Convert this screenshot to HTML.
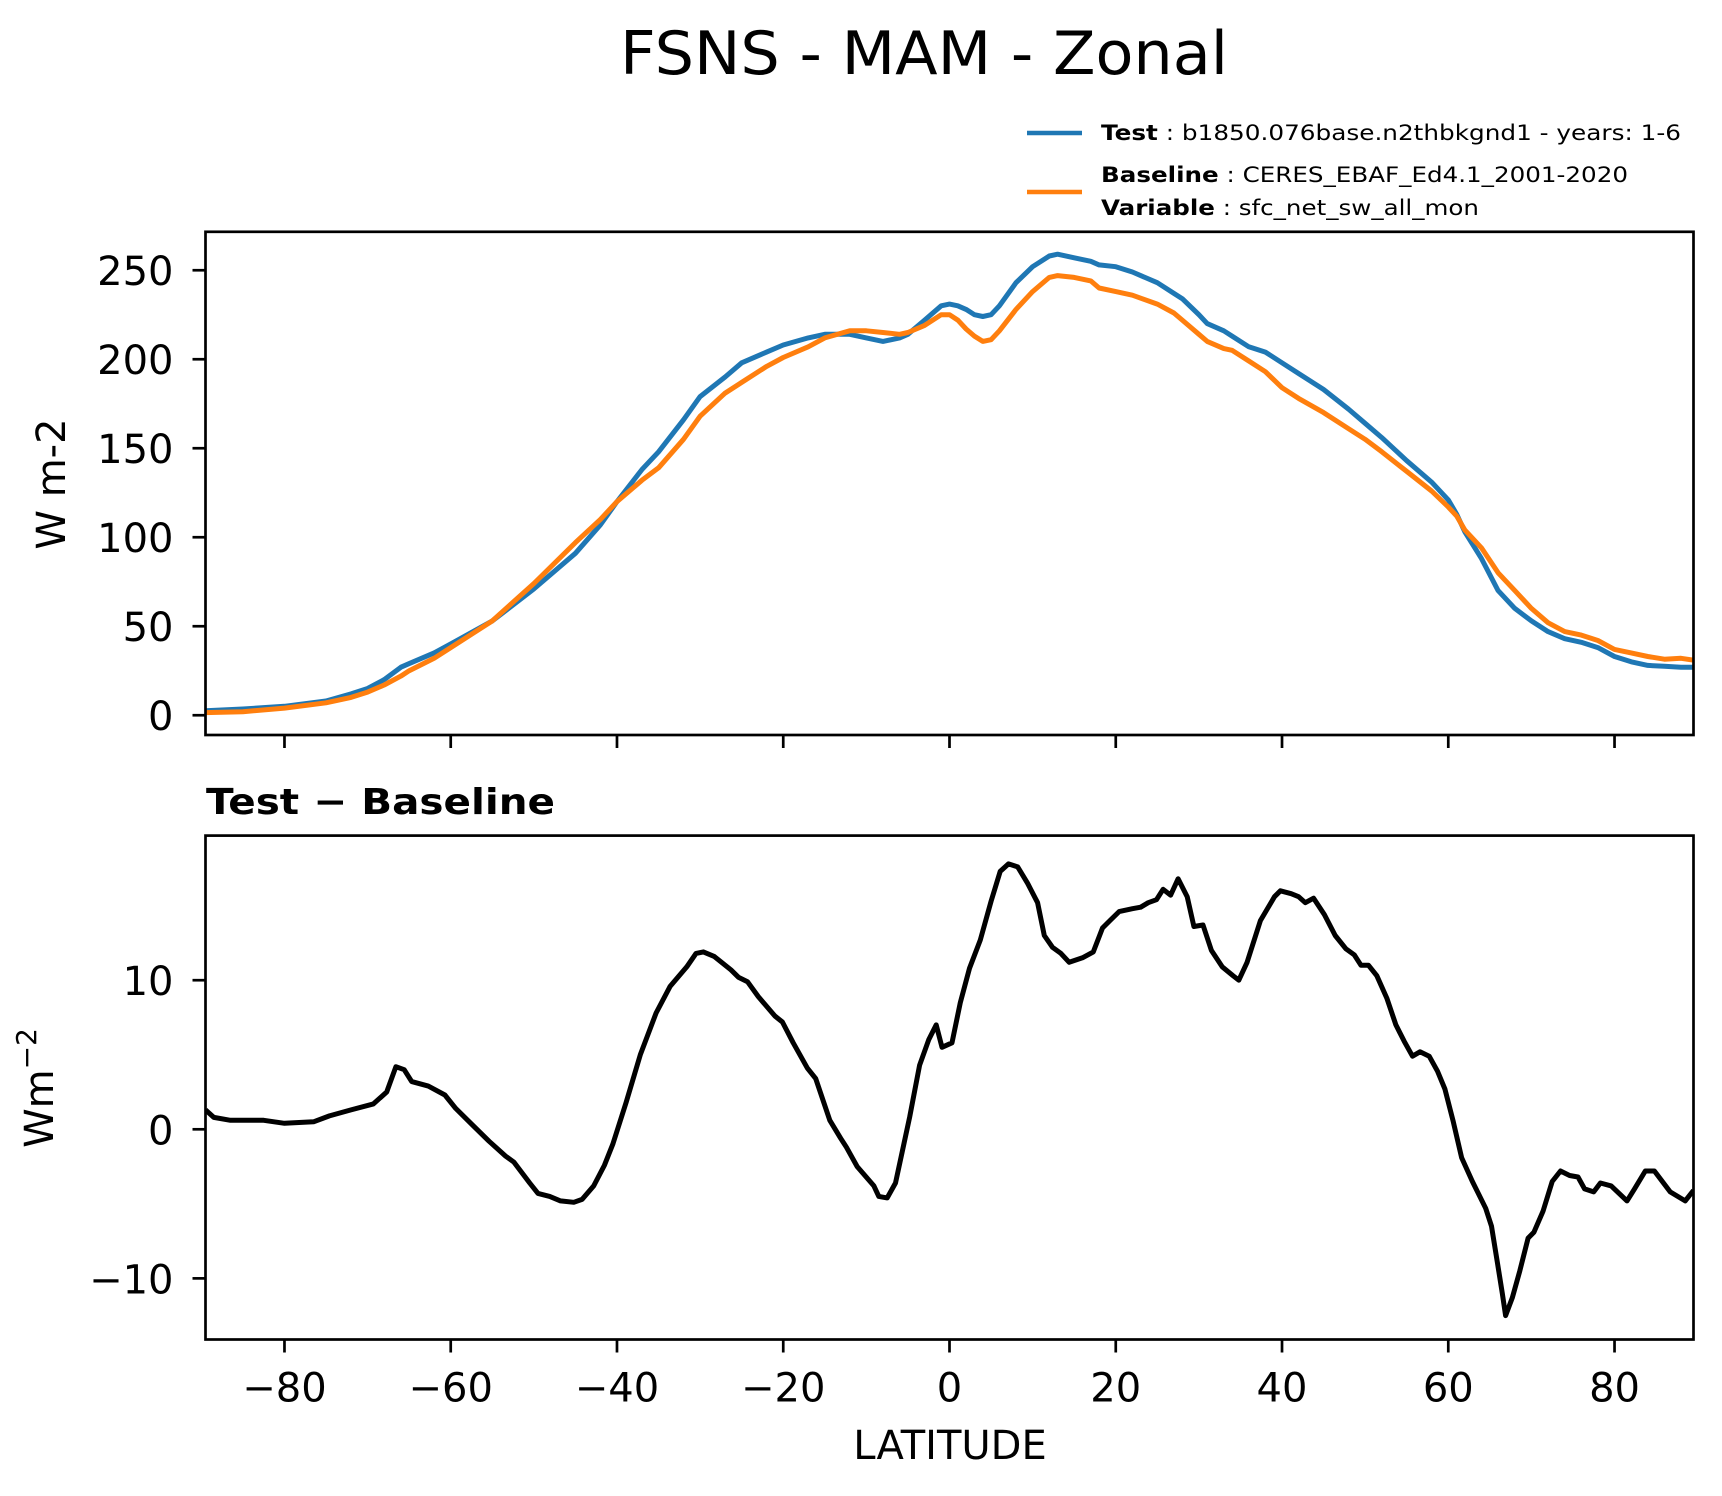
<!DOCTYPE html>
<html><head><meta charset="utf-8"><style>
html,body{margin:0;padding:0;background:#fff}
svg{display:block;font-family:"DejaVu Sans","Liberation Sans",sans-serif}
</style></head><body>
<svg id="fig" width="1722" height="1496" viewBox="0 0 1722 1496" xmlns="http://www.w3.org/2000/svg">
<rect width="1722" height="1496" fill="#fff"/>
<text x="924" y="74" font-size="60" text-anchor="middle" textLength="608" lengthAdjust="spacingAndGlyphs">FSNS - MAM - Zonal</text>
<g>
<line x1="1027" y1="133" x2="1082" y2="133" stroke="#1f77b4" stroke-width="4.5"/>
<line x1="1027" y1="192" x2="1082" y2="192" stroke="#ff7f0e" stroke-width="4.5"/>
<text x="1101" y="140" font-size="21" textLength="580" lengthAdjust="spacingAndGlyphs"><tspan font-weight="bold">Test</tspan> : b1850.076base.n2thbkgnd1 - years: 1-6</text>
<text x="1101" y="182" font-size="21" textLength="527" lengthAdjust="spacingAndGlyphs"><tspan font-weight="bold">Baseline</tspan> : CERES_EBAF_Ed4.1_2001-2020</text>
<text x="1101" y="215" font-size="21" textLength="378" lengthAdjust="spacingAndGlyphs"><tspan font-weight="bold">Variable</tspan> : sfc_net_sw_all_mon</text>
</g>
<g id="top"></g>
<g id="bot"></g>
<text x="54" y="484" font-size="40" text-anchor="middle" transform="rotate(-90 54 484)" dominant-baseline="middle">W m-2</text>
<text x="42" y="1088" font-size="40" text-anchor="middle" transform="rotate(-90 42 1088)" dominant-baseline="middle">Wm<tspan dy="-14" font-size="28">−2</tspan></text>
<text x="206" y="814" font-size="36" font-weight="bold" textLength="349" lengthAdjust="spacingAndGlyphs">Test − Baseline</text>
<text x="950" y="1459" font-size="40" text-anchor="middle">LATITUDE</text>
</svg>
<script>
const testLat = [-89.5,-85,-80,-75,-72,-70,-68,-66,-65,-62,-60,-55,-50,-45,-42,-40,-37,-35,-32,-30,-27,-25,-22,-20,-17,-15,-12,-10,-8,-6,-5,-3,-1,0,1,2,3,4,5,6,8,10,12,13,15,17,18,20,22,25,27,28,30,31,33,34,36,38,40,42,45,48,50,52,55,58,60,61,62,64,66,68,70,72,74,76,78,80,82,84,86,88,89.5];
const testVals = [2.5,3.5,5,8,12,15,20,27,29,35,40,53,71,91,107,120,138,148,166,179,190,198,204,208,212,214,214,212,210,212,214,222,230,231,230,228,225,224,225,230,243,252,258,259,257,255,253,252,249,243,237,234,225,220,216,213,207,204,198,192,183,172,164,156,143,131,121,113,103,88,70,60,53,47,43,41,38,33,30,28,27.5,27,27];
const baseVals = [1.5,2,4,7,10,13,17,22,25,32,38,53,74,97,110,120,132,139,155,168,181,187,196,201,207,212,216,216,215,214,215,219,225,225,222,217,213,210,211,216,228,238,246,247,246,244,240,238,236,231,226,222,214,210,206,205,199,193,184,178,170,161,155,148,137,126,117,112,104,94,80,70,60,52,47,45,42,37,35,33,31.5,32,31];
const diffLat = [-89.5,-88.5,-86.5,-82.5,-80,-76.5,-74.6,-72,-69.3,-67.7,-66.6,-65.6,-64.7,-62.7,-60.7,-59.4,-57.4,-55.4,-53.4,-52.4,-50.5,-49.5,-48.1,-46.8,-45.2,-44.2,-42.8,-41.5,-40.5,-38.9,-37.2,-35.3,-33.6,-31.6,-30.5,-29.6,-28.3,-26.3,-25.4,-24.3,-23,-21,-20.1,-18.8,-17.1,-16.1,-14.4,-13.1,-12.4,-11.1,-9.1,-8.5,-7.5,-6.5,-4.8,-3.6,-2.5,-1.6,-0.9,0.3,1.3,2.4,3.7,5,6.1,7.1,8.2,9.4,10.6,11.4,12.4,13.4,14.4,16,17.3,18.4,19.3,20.4,22,23,23.9,24.9,25.7,26.6,27.5,28.6,29.4,30.5,31.5,32.8,34.1,34.8,35.8,37.4,39.1,39.8,41.1,42,42.8,43.8,45.1,46.4,47.7,48.7,49.5,50.4,51.4,52.6,53.7,54.7,55.7,56.6,57.7,58.7,59.6,60.6,61.6,62.9,64.5,65.2,65.9,66.5,66.9,67.7,68.6,69.6,70.3,71.4,72.5,73.5,74.6,75.6,76.4,77.5,78.3,79.6,81.5,82.4,83.7,84.8,86.7,88.5,89.5];
const diffVals = [1.3,0.8,0.6,0.6,0.4,0.5,0.9,1.3,1.7,2.5,4.2,4.0,3.2,2.9,2.3,1.4,0.3,-0.8,-1.8,-2.2,-3.6,-4.3,-4.5,-4.8,-4.9,-4.7,-3.8,-2.4,-1.0,1.8,5,7.8,9.6,10.9,11.8,11.9,11.6,10.7,10.2,9.9,8.9,7.6,7.2,5.8,4.1,3.4,0.6,-0.6,-1.2,-2.5,-3.8,-4.5,-4.6,-3.6,0.8,4.3,6,7.0,5.5,5.8,8.5,10.8,12.7,15.3,17.3,17.8,17.6,16.5,15.2,13.0,12.2,11.8,11.2,11.5,11.9,13.5,14.0,14.6,14.8,14.9,15.2,15.4,16.1,15.7,16.8,15.6,13.6,13.7,12.0,10.9,10.3,10.0,11.2,14.0,15.6,16.0,15.8,15.6,15.2,15.5,14.4,13.0,12.1,11.7,11.0,11.0,10.3,8.8,7.0,5.9,4.9,5.2,4.9,3.9,2.7,0.5,-1.9,-3.5,-5.3,-6.5,-8.9,-11.0,-12.5,-11.3,-9.5,-7.3,-6.9,-5.5,-3.5,-2.8,-3.1,-3.2,-4.0,-4.2,-3.6,-3.8,-4.8,-4.0,-2.8,-2.8,-4.2,-4.8,-4.1];
const xTicks = [-80,-60,-40,-20,0,20,40,60,80];
const topYTicks = [0,50,100,150,200,250];
const botYTicks = [-10,0,10];

const NS='http://www.w3.org/2000/svg';
const X0=205.5, X1=1693.5, XMIN=-89.5, XMAX=89.5;
const sx = v => X0 + (v-XMIN)/(XMAX-XMIN)*(X1-X0);
function mk(tag, attrs, parent){const e=document.createElementNS(NS,tag);for(const k in attrs)e.setAttribute(k,attrs[k]);parent.appendChild(e);return e;}
function panel(g, top, bot, ymin, ymax, yTicks, showXLabels){
  const sy = v => bot - (v-ymin)/(ymax-ymin)*(bot-top);
  for(const t of xTicks){
    const l=mk('line',{x1:sx(t),x2:sx(t),y1:bot,y2:bot+13,stroke:'#000','stroke-width':2.7},g);
    
    
    if(showXLabels){
      const tx=mk('text',{x:sx(t),y:bot+62,'font-size':40,'text-anchor':'middle'},g);
      tx.textContent=(t<0?'−'+(-t):''+t);
      
      
    }
  }
  for(const t of yTicks){
    const l=mk('line',{x1:X0-13,x2:X0,y1:sy(t),y2:sy(t),stroke:'#000','stroke-width':2.7},g);
    
    
    const tx=mk('text',{x:X0-32,y:sy(t)+15,'font-size':40,'text-anchor':'end'},g);
    tx.textContent=(t<0?'−'+(-t):''+t);
    
    
  }
  return sy;
}
function series(g, lats, vals, sy, color, name){
  const d=lats.map((la,i)=>(i?'L':'M')+sx(la).toFixed(1)+' '+sy(vals[i]).toFixed(1)).join(' ');
  const p=mk('path',{d:d,fill:'none',stroke:color,'stroke-width':5,'stroke-linejoin':'round','clip-path':'url(#'+g.id+'-clip)'},g);
  
  
}
function clip(g, top, bot){
  const defs=mk('defs',{},g);
  const c=mk('clipPath',{id:g.id+'-clip'},defs);
  mk('rect',{x:X0,y:top,width:X1-X0,height:bot-top},c);
}
function frame(g, top, bot){
  const r=mk('rect',{x:X0,y:top,width:X1-X0,height:bot-top,fill:'none',stroke:'#000','stroke-width':2.7},g);
  
  
}
const gt=document.getElementById('top');
const T0=231.8,T1=735;
clip(gt,T0,T1);
const syT=panel(gt,T0,T1,-11.1,271.6,topYTicks,false);
series(gt,testLat,testVals,syT,'#1f77b4','test-line');
series(gt,testLat,baseVals,syT,'#ff7f0e','baseline-line');
frame(gt,T0,T1);
const gb=document.getElementById('bot');
const B0=835.6,B1=1339.5;
clip(gb,B0,B1);
const syB=panel(gb,B0,B1,-14.1,19.7,botYTicks,true);
series(gb,diffLat,diffVals,syB,'#000','difference-line');
frame(gb,B0,B1);
</script>
</body></html>
